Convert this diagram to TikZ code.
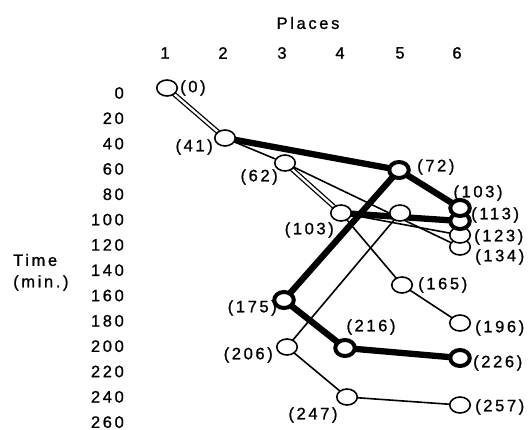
\documentclass[tikz,border=0pt]{standalone}
\usepackage{fontspec}
\setmainfont{Liberation Sans}[LetterSpace=16,FakeBold=1]
\usetikzlibrary{shapes.geometric}
\pgfdeclarelayer{bg}
\pgfsetlayers{bg,main}
\begin{document}
\begin{tikzpicture}[x=1pt,y=-1pt,
  every node/.style={font=\fontsize{16.5}{18}\selectfont, inner sep=0pt},
  stop/.style={ellipse, draw, fill=white, line width=1.6pt, minimum width=20.5pt, minimum height=16pt},
  bigstop/.style={stop, line width=4pt, minimum width=19.5pt, minimum height=16pt},
  leg/.style={line width=1.6pt},
  heavy/.style={line width=6.3pt},
  twin/.style={double, line width=1.3pt, double distance=2.3pt}
]
\useasboundingbox (0,0) rectangle (532,430);
% header
\node (places) at (308,23) {Places};
\node (p1) at (165,53) {1};
\node (p2) at (223,53) {2};
\node (p3) at (282,53) {3};
\node (p4) at (340,53) {4};
\node (p5) at (400,53) {5};
\node (p6) at (457,53) {6};
% time axis
\foreach \t in {0,20,...,260}
  \node[anchor=east] (t\t) at (124,{93+1.266*\t}) {\t};
\node[anchor=west] (time) at (13,260) {Time};
\node[anchor=west] (min) at (13,283) {(min.)};
% stops
\node[stop] (n0) at (167,88) {};
\node[stop] (n41) at (225,138) {};
\node[stop] (n62) at (285,163) {};
\node[bigstop] (n72) at (399,170) {};
\node[stop] (n103a) at (341,213) {};
\node[stop] (n103b) at (400,213) {};
\node[stop] (n134) at (460,247) {};
\node[stop] (n123) at (460,235) {};
\node[bigstop] (n113) at (460,221) {};
\node[bigstop] (n103c) at (460,208) {};
\node[stop] (n165) at (402,285) {};
\node[bigstop] (n175) at (284,300) {};
\node[stop] (n196) at (460,323) {};
\node[stop] (n206) at (287,347) {};
\node[bigstop] (n216) at (345,348) {};
\node[bigstop] (n226) at (460,358) {};
\node[stop] (n247) at (347,397) {};
\node[stop] (n257) at (460,405) {};
% labels
\node[anchor=west] (l0) at (180,88) {(0)};
\node[anchor=east] (l41) at (213,147) {(41)};
\node[anchor=east] (l62) at (278,177) {(62)};
\node[anchor=west] (l72) at (417,167) {(72)};
\node[anchor=east] (l103a) at (334,230) {(103)};
\node (l103c) at (478,193) {(103)};
\node[anchor=west] (l113) at (471,215) {(113)};
\node[anchor=west] (l123) at (474,237) {(123)};
\node[anchor=west] (l134) at (475,257) {(134)};
\node[anchor=west] (l165) at (418,285) {(165)};
\node[anchor=east] (l175) at (277,308) {(175)};
\node[anchor=west] (l196) at (475,328) {(196)};
\node[anchor=east] (l206) at (273,355) {(206)};
\node (l216) at (371,327) {(216)};
\node[anchor=west] (l226) at (473,363) {(226)};
\node (l247) at (313,415) {(247)};
\node[anchor=west] (l257) at (475,407) {(257)};
% connectors
\begin{pgfonlayer}{bg}
\draw[twin] (n0.center) -- (n41.center);
\draw[leg] (n41.center) -- (n62.center);
\draw[twin] (n62.center) -- (n103a.center);
\draw[leg] (n62.center) -- (n134.center);
\draw[leg] (n103a.center) -- (n123.center);
\draw[leg] (n103a.center) -- (n165.center);
\draw[leg] (n165.center) -- (n196.center);
\draw[leg] (n103b.center) -- (n206.center);
\draw[leg] (n206.center) -- (n247.center);
\draw[leg] (n247.center) -- (n257.center);
\draw[heavy] (n41.center) -- (n72.center);
\draw[heavy] (n72.center) -- (n103c.center);
\draw[heavy] (n72.center) -- (n175.center);
\draw[heavy] (n103a.center) -- (n113.center);
\draw[heavy] (n175.center) -- (n216.center);
\draw[heavy] (n216.center) -- (n226.center);
\end{pgfonlayer}
\end{tikzpicture}
\end{document}
